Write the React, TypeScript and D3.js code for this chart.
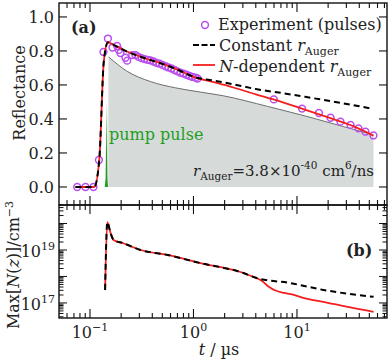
import React, { useEffect, useRef } from "react";
import * as d3 from "d3";

const W = 391;
const H = 361;

// Experiment (pulses): time in µs, reflectance
const expT = [0.0752, 0.0905, 0.108, 0.122, 0.135, 0.149, 0.165, 0.183, 0.19, 0.197, 0.22, 0.229, 0.256, 0.275,
  0.294, 0.315, 0.337, 0.36, 0.384, 0.411, 0.439, 0.47, 0.502, 0.537, 0.573, 0.613, 0.655, 0.7, 0.749, 0.8,
  0.856, 0.915, 0.978, 1.045, 1.093, 5.97, 11.2, 16.3, 21.1, 26.3, 32.9, 39.3, 45.9, 54.8];
const expR = [0, 0, 0, 0.159, 0.794, 0.873, 0.82, 0.829, 0.806, 0.788, 0.76, 0.743, 0.776, 0.776,
  0.765, 0.758, 0.752, 0.748, 0.745, 0.738, 0.73, 0.725, 0.718, 0.71, 0.703, 0.697, 0.688, 0.68, 0.672, 0.667,
  0.66, 0.653, 0.647, 0.643, 0.638, 0.515, 0.461, 0.435, 0.407, 0.384, 0.365, 0.345, 0.325, 0.303];

// Model, constant r_Auger
const constT = [0.0724, 0.11, 0.123, 0.136, 0.149, 0.176, 0.23, 0.329, 0.48, 0.7, 1.0, 1.56, 2.43, 4.0, 7.41, 12, 22.5, 35, 54];
const constR = [0, 0, 0.16, 0.737, 0.85, 0.83, 0.795, 0.76, 0.728, 0.69, 0.648, 0.626, 0.604, 0.576, 0.551, 0.53, 0.502, 0.481, 0.46];

// Model, N-dependent r_Auger
const ndepT = [0.0724, 0.11, 0.123, 0.136, 0.149, 0.176, 0.23, 0.329, 0.48, 0.7, 1.0, 1.56, 2.43, 4.0, 5.93, 11.3, 21.1, 35, 54.8];
const ndepR = [0, 0, 0.16, 0.737, 0.85, 0.83, 0.795, 0.76, 0.728, 0.69, 0.648, 0.617, 0.585, 0.545, 0.515, 0.46, 0.405, 0.358, 0.302];

// Gray shaded curve
const grayT = [0.145, 0.151, 0.229, 0.384, 0.67, 1.17, 1.95, 5.19, 10.8, 24.6, 54.8];
const grayR = [0, 0.765, 0.68, 0.62, 0.583, 0.558, 0.536, 0.474, 0.425, 0.365, 0.306];

// Pump pulse
const pumpT = [0.139, 0.1415, 0.143, 0.1443, 0.1457, 0.147, 0.1495];
const pumpR = [0, 0.05, 0.25, 0.5, 0.25, 0.05, 0];

// Panel (b): Max[N(z)] in cm^-3
const densT = [0.14, 0.147, 0.158, 0.169, 0.21, 0.308, 0.56, 1.17, 3.04, 4.0];
const densN = [3.1e17, 1.12e20, 4.4e19, 2.4e19, 1.8e19, 1.0e19, 6.5e18, 3.2e18, 1.35e18, 8.9e17];
const constTailT = [4.0, 8.66, 18, 55];
const constTailN = [8.9e17, 5.6e17, 3.1e17, 1.7e17];
const ndepTailT = [4.0, 4.6, 5.3, 6.2, 7.5, 8.7, 12, 18, 30, 55];
const ndepTailN = [8.9e17, 6.8e17, 4.2e17, 2.95e17, 2.4e17, 2.15e17, 1.5e17, 1.1e17, 7.2e16, 4.6e16];

const reflTicks = [0, 0.2, 0.4, 0.6, 0.8, 1.0];
const xLabelVals = [0.1, 1, 10];
const xLabelExps = ["\u22121", "0", "1"];
const nLabelVals = [1e17, 1e19];
const nLabelExps = ["17", "19"];

const FONT = "DejaVu Serif";
const FS = 16;
const FS_SMALL = 11;
const PURPLE = "#b94ef0";
const RED = "#f41e1e";
const GREEN = "#1f9e1f";

const App = () => {
  const ref = useRef<SVGSVGElement>(null);

  useEffect(() => {
    const svg = d3.select(ref.current);
    svg.selectAll("*").remove();

    const left = 59, right = 387, topA = 3, mid = 205, botB = 318;
    const x = d3.scaleLog().domain([0.0502, 74.1]).range([left, right]);
    const yA = d3.scaleLinear().domain([-0.106, 1.082]).range([mid, topA]);
    const yB = d3.scaleLog().domain([2.7e16, 5.0e20]).range([botB, mid]);

    svg.append("rect").attr("width", W).attr("height", H).attr("fill", "#fff");

    // ---------- panel (a)
    const a = svg.append("g").attr("font-family", FONT);
    const grayData = grayT.map((t, i) => [t, grayR[i]]);
    const grayLine = d3.line<number[]>().x(d => x(d[0])).y(d => yA(d[1])).curve(d3.curveMonotoneX);
    a.append("path")
      .datum([[grayT[0], 0], grayData[0], grayData[1], [grayT[1], 0]])
      .attr("fill", "#d6dbda")
      .attr("d", d3.line<number[]>().x(d => x(d[0])).y(d => yA(d[1])));
    a.append("path")
      .datum(grayData.slice(1))
      .attr("fill", "#d6dbda")
      .attr("d", d3.area<number[]>().x(d => x(d[0])).y0(yA(0)).y1(d => yA(d[1])).curve(d3.curveMonotoneX));
    a.append("path")
      .datum(grayData.slice(1))
      .attr("fill", "none")
      .attr("stroke", "#6e6e6e")
      .attr("stroke-width", 1)
      .attr("d", grayLine);

    a.append("path")
      .datum(pumpT.map((t, i) => [t, pumpR[i]]))
      .attr("fill", GREEN)
      .attr("d", d3.area<number[]>().x(d => x(d[0])).y0(yA(0)).y1(d => yA(d[1])));

    a.append("text")
      .attr("x", 109).attr("y", 140)
      .attr("fill", GREEN)
      .attr("font-size", FS)
      .text("pump pulse");

    a.selectAll("circle.exp")
      .data(expT.map((t, i) => [t, expR[i]]))
      .join("circle")
      .attr("cx", d => x(d[0]))
      .attr("cy", d => yA(d[1]))
      .attr("r", 3.4)
      .attr("fill", "none")
      .attr("stroke", PURPLE)
      .attr("stroke-width", 1.5);

    const lineA = d3.line<number[]>().x(d => x(d[0])).y(d => yA(d[1])).curve(d3.curveMonotoneX);
    a.append("path")
      .datum(ndepT.map((t, i) => [t, ndepR[i]]))
      .attr("fill", "none").attr("stroke", RED).attr("stroke-width", 1.8)
      .attr("d", lineA);
    a.append("path")
      .datum(constT.map((t, i) => [t, constR[i]]))
      .attr("fill", "none").attr("stroke", "#000").attr("stroke-width", 2)
      .attr("stroke-dasharray", "6,4")
      .attr("d", lineA);

    // annotation
    const ann = a.append("text").attr("x", 374).attr("y", 176).attr("text-anchor", "end")
      .attr("font-size", 15).attr("fill", "#222");
    ann.append("tspan").attr("font-style", "italic").text("r");
    ann.append("tspan").attr("font-size", 10.5).attr("dy", 4).text("Auger");
    ann.append("tspan").attr("dy", -4).text("=3.8\u00d710");
    ann.append("tspan").attr("font-size", 10.5).attr("dy", -7).text("-40");
    ann.append("tspan").attr("dy", 7).text(" cm");
    ann.append("tspan").attr("font-size", 10.5).attr("dy", -7).text("6");
    ann.append("tspan").attr("dy", 7).text("/ns");

    // legend
    a.append("circle").attr("cx", 205).attr("cy", 25).attr("r", 3.4)
      .attr("fill", "none").attr("stroke", PURPLE).attr("stroke-width", 1.5);
    const lg = a.append("g").attr("font-size", FS).attr("fill", "#222");
    lg.append("text").attr("x", 218).attr("y", 30).text("Experiment (pulses)");
    a.append("line").attr("x1", 193).attr("x2", 215).attr("y1", 45).attr("y2", 45)
      .attr("stroke", "#000").attr("stroke-width", 2).attr("stroke-dasharray", "6,2.5");
    const l2 = lg.append("text").attr("x", 219).attr("y", 51);
    l2.append("tspan").text("Constant ");
    l2.append("tspan").attr("font-style", "italic").text("r");
    l2.append("tspan").attr("font-size", FS_SMALL).attr("dy", 4).text("Auger");
    a.append("line").attr("x1", 193).attr("x2", 215).attr("y1", 65).attr("y2", 65)
      .attr("stroke", RED).attr("stroke-width", 1.8);
    const l3 = lg.append("text").attr("x", 219).attr("y", 72);
    l3.append("tspan").attr("font-style", "italic").text("N");
    l3.append("tspan").text("-dependent ");
    l3.append("tspan").attr("font-style", "italic").text("r");
    l3.append("tspan").attr("font-size", FS_SMALL).attr("dy", 4).text("Auger");

    a.append("text").attr("x", 71).attr("y", 33).attr("font-size", FS).attr("font-weight", "bold").attr("fill", "#222").text("(a)");

    // ---------- panel (b)
    const b = svg.append("g").attr("font-family", FONT);
    const lineB = d3.line<number[]>().x(d => x(d[0])).y(d => yB(d[1])).curve(d3.curveMonotoneX);
    const nd = [...densT.map((t, i) => [t, densN[i]]), ...ndepTailT.slice(1).map((t, i) => [t, ndepTailN[i + 1]])];
    const cd = [...densT.map((t, i) => [t, densN[i]]), ...constTailT.slice(1).map((t, i) => [t, constTailN[i + 1]])];
    b.append("path").datum(nd).attr("fill", "none").attr("stroke", RED).attr("stroke-width", 1.8).attr("d", lineB);
    b.append("path").datum(cd).attr("fill", "none").attr("stroke", "#000").attr("stroke-width", 2)
      .attr("stroke-dasharray", "6,4").attr("d", lineB);
    b.append("text").attr("x", 346).attr("y", 256).attr("font-size", FS).attr("font-weight", "bold").attr("fill", "#222").text("(b)");

    // ---------- frames & ticks
    const ax = svg.append("g").attr("stroke", "#111").attr("fill", "none");
    ax.append("rect").attr("x", left).attr("y", topA).attr("width", right - left).attr("height", mid - topA).attr("stroke-width", 1.4);
    ax.append("rect").attr("x", left).attr("y", mid).attr("width", right - left).attr("height", botB - mid).attr("stroke-width", 1.4);

    const isMajor = (v: number) => Math.abs(Math.log10(v) - Math.round(Math.log10(v))) < 1e-6;
    x.ticks().forEach(v => {
      const px = x(v);
      const big = isMajor(v);
      const len = big ? 9 : 5;
      ax.append("line").attr("x1", px).attr("x2", px).attr("y1", topA).attr("y2", topA + len).attr("stroke-width", 1.1);
      ax.append("line").attr("x1", px).attr("x2", px).attr("y1", mid - len).attr("y2", mid + len).attr("stroke-width", 1.1);
      ax.append("line").attr("x1", px).attr("x2", px).attr("y1", botB - len).attr("y2", botB).attr("stroke-width", 1.1);
    });
    reflTicks.forEach(v => {
      const py = yA(v);
      ax.append("line").attr("x1", left).attr("x2", left + 8).attr("y1", py).attr("y2", py).attr("stroke-width", 1.1);
      ax.append("line").attr("x1", right - 8).attr("x2", right).attr("y1", py).attr("y2", py).attr("stroke-width", 1.1);
    });
    yB.ticks().forEach(v => {
      const py = yB(v);
      const len = isMajor(v) ? 8 : 4.5;
      ax.append("line").attr("x1", left).attr("x2", left + len).attr("y1", py).attr("y2", py).attr("stroke-width", 1);
      ax.append("line").attr("x1", right - len).attr("x2", right).attr("y1", py).attr("y2", py).attr("stroke-width", 1);
    });

    // tick labels
    const lab = svg.append("g").attr("font-family", FONT).attr("font-size", FS).attr("fill", "#222");
    reflTicks.forEach(v => {
      lab.append("text").attr("x", 54).attr("y", yA(v) + 6).attr("text-anchor", "end").text(v.toFixed(1));
    });
    nLabelVals.forEach((v, i) => {
      const t = lab.append("text").attr("x", 55).attr("y", yB(v) + 7).attr("text-anchor", "end");
      t.append("tspan").text("10");
      t.append("tspan").attr("font-size", FS_SMALL).attr("dy", -7).text(nLabelExps[i]);
    });
    xLabelVals.forEach((v, i) => {
      const t = lab.append("text").attr("x", x(v)).attr("y", 338).attr("text-anchor", "middle");
      t.append("tspan").text("10");
      t.append("tspan").attr("font-size", FS_SMALL).attr("dy", -7).text(xLabelExps[i]);
    });

    // axis titles
    lab.append("text").attr("transform", "translate(25,93) rotate(-90)").attr("text-anchor", "middle").text("Reflectance");
    const yt = lab.append("text").attr("transform", "translate(19,265) rotate(-90)").attr("text-anchor", "middle");
    yt.append("tspan").text("Max[");
    yt.append("tspan").attr("font-style", "italic").text("N");
    yt.append("tspan").text("(");
    yt.append("tspan").attr("font-style", "italic").text("z");
    yt.append("tspan").text(")]/cm");
    yt.append("tspan").attr("font-size", FS_SMALL).attr("dy", -6).text("\u22123");
    const xt = lab.append("text").attr("x", 219).attr("y", 355).attr("text-anchor", "middle");
    xt.append("tspan").attr("font-style", "italic").text("t");
    xt.append("tspan").text(" / \u00b5s");
  }, []);

  return (
    <svg
      ref={ref}
      width={W}
      height={H}
      viewBox={`0 0 ${W} ${H}`}
      style={{ position: "absolute", left: 0, top: 0 }}
    />
  );
};

export default App;
